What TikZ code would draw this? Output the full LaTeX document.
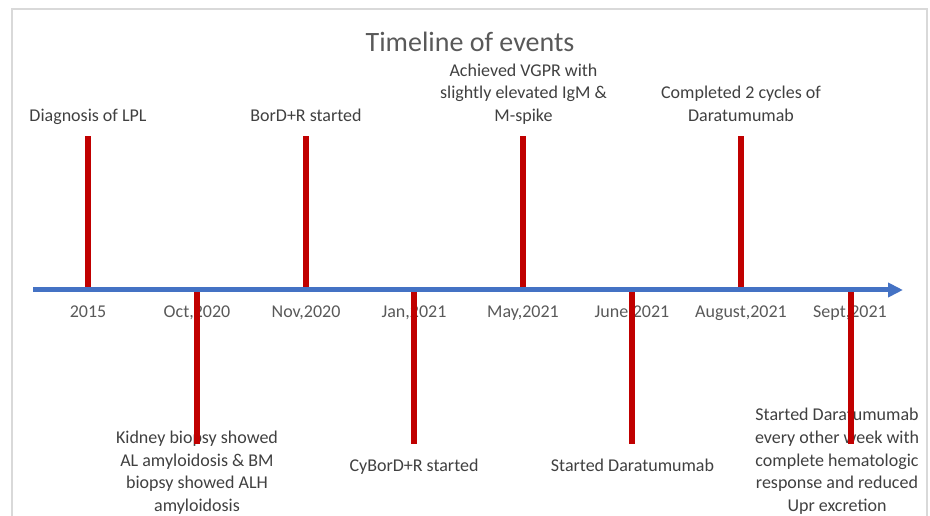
\documentclass[tikz,border=0pt]{standalone}
\usepackage{fontspec}
\setmainfont{Carlito}
\usepackage{tikz}
\usepackage{xcolor}
\usetikzlibrary{arrows.meta,calc}

\definecolor{axisblue}{HTML}{4472C4}
\definecolor{barred}{HTML}{C00000}
\definecolor{framegray}{HTML}{D9D9D9}
\definecolor{labelgray}{HTML}{404040}
\definecolor{dategray}{HTML}{595959}

\begin{document}
\begin{tikzpicture}[x=1pt,y=1pt,
	bar/.style={barred, line width=6pt},
	timeaxis/.style={axisblue, line width=5pt, -{Triangle[length=15pt,width=14pt]}},
	date/.style={dategray, anchor=base, inner sep=0pt, font=\fontsize{18}{22.5}\selectfont},
	eventup/.style={labelgray, anchor=south, inner sep=0pt, align=center,
		font=\fontsize{18}{22.6}\selectfont, execute at end node=\strut},
	eventdown/.style={labelgray, anchor=north, inner sep=0pt, align=center,
		font=\fontsize{18}{22.6}\selectfont, execute at begin node=\strut}]
	\useasboundingbox (0,0) rectangle (930,516);
	%frame
	\draw[framegray, line width=1.5pt] (12,-10) rectangle (927,507);
	%title
	\node[dategray, anchor=base, font=\fontsize{28}{34}\selectfont] (title) at (470,464.3) {Timeline of events};
	%points on the axis
	\coordinate (start) at (33,226);
	\coordinate (tip) at (903,226);
	\coordinate (e1) at (88,226);
	\coordinate (e2) at (197,226);
	\coordinate (e3) at (306,226);
	\coordinate (e4) at (414,226);
	\coordinate (e5) at (523,226);
	\coordinate (e6) at (632,226);
	\coordinate (e7) at (741,226);
	\coordinate (e8) at (851,226);
	\coordinate (up) at (0,380);
	\coordinate (down) at (0,72);
	%dates
	\node[date] (d1) at (88,198) {2015};
	\node[date] (d2) at (197,198) {Oct,2020};
	\node[date] (d3) at (306,198) {Nov,2020};
	\node[date] (d4) at (414,198) {Jan,2021};
	\node[date] (d5) at (523,198) {May,2021};
	\node[date] (d6) at (632,198) {June,2021};
	\node[date] (d7) at (741,198) {August,2021};
	\node[date] (d8) at (850,198) {Sept,2021};
	%events above
	\node[eventup] (lpl) at (88,387.6) {Diagnosis of LPL};
	\node[eventup] (bord) at (306,387.6) {BorD+R started};
	\node[eventup] (vgpr) at (523.5,387.6) {Achieved VGPR with\\slightly elevated IgM \&\\M-spike};
	\node[eventup] (cycles) at (741,387.6) {Completed 2 cycles of\\Daratumumab};
	%events below
	\node[eventdown] (biopsy) at (197,85) {Kidney biopsy showed\\AL amyloidosis \& BM\\biopsy showed ALH\\amyloidosis};
	\node[eventdown] (cybord) at (414,61) {CyBorD+R started};
	\node[eventdown] (dara) at (632.5,61) {Started Daratumumab};
	\node[eventdown] (response) at (837,107.7) {Started Daratumumab\\every other week with\\complete hematologic\\response and reduced\\Upr excretion};
	%bars
	\draw[bar] (e1) -- (e1 |- up);
	\draw[bar] (e3) -- (e3 |- up);
	\draw[bar] (e5) -- (e5 |- up);
	\draw[bar] (e7) -- (e7 |- up);
	\draw[bar] (e2) -- (e2 |- down);
	\draw[bar] (e4) -- (e4 |- down);
	\draw[bar] (e6) -- (e6 |- down);
	\draw[bar] (e8) -- (e8 |- down);
	%axis
	\draw[timeaxis] (start) -- (tip);
\end{tikzpicture}
\end{document}
